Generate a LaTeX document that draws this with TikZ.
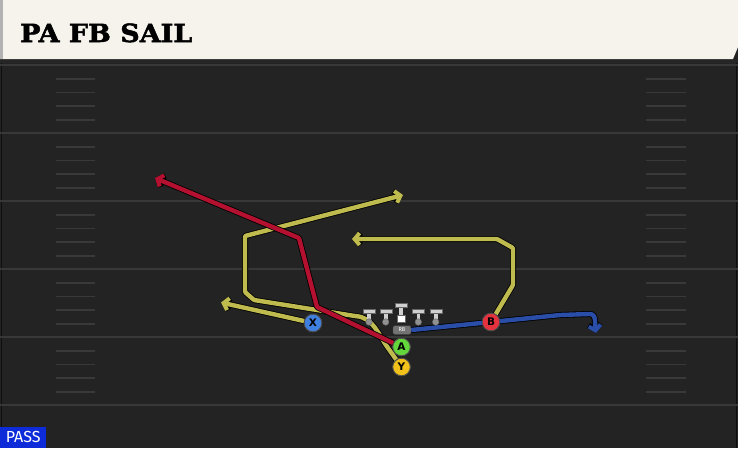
\documentclass[tikz,border=0pt]{standalone}
\usepackage{fontspec}
\setmainfont{DejaVu Sans}
\newfontfamily\titlefont{DejaVu Serif}[BoldFeatures={FakeBold=2,FakeStretch=1.08}]
\newfontfamily\tagfont{Fira Sans}
\usetikzlibrary{arrows.meta}
\definecolor{field}{HTML}{232323}
\definecolor{hdr}{HTML}{F5F3EC}
\definecolor{yardln}{HTML}{383838}
\definecolor{hashln}{HTML}{393939}
\definecolor{rtyellow}{HTML}{BFBB4F}
\definecolor{rtred}{HTML}{B3112F}
\definecolor{rtblue}{HTML}{2A4DA8}
\definecolor{plX}{HTML}{3F7FE0}
\definecolor{plA}{HTML}{62D63A}
\definecolor{plY}{HTML}{F2C21B}
\definecolor{plB}{HTML}{E5323F}
\definecolor{passblue}{HTML}{0D2BD9}
\definecolor{olman}{HTML}{CFCFCF}
\tikzset{
  route/.style={line width=4.4pt, line join=round, rounded corners=1pt,
    -{Straight Barb[length=5pt,width=12pt,line width=4pt]},
    preaction={draw=black, line width=6pt,
      -{Straight Barb[length=5pt,width=12pt,line width=5.6pt]}}},
  player/.style={circle, draw=black!70, line width=0.8pt, minimum size=17.5pt,
    inner sep=0pt, font=\bfseries\fontsize{10.5}{10.5}\selectfont, text=black},
  hash/.style={draw=hashln, line width=1.3pt},
  yard/.style={draw=yardln, line width=1.6pt}
}
\begin{document}
\begin{tikzpicture}[x=1pt,y=-1pt]
\useasboundingbox (0,0) rectangle (738,448);
\fill[field] (0,0) rectangle (738,448);
\draw[draw=black!60!field, line width=1.2pt] (1.5,60) -- (1.5,448);
\draw[draw=black!60!field, line width=1.2pt] (736.5,60) -- (736.5,448);
\foreach \yl in {65,133,201,269,337,405}{
  \draw[yard] (0,\yl) -- (738,\yl);
}
\foreach \yl in {65,133,201,269,337}{
  \foreach \off in {14,27.5,41,55}{
    \draw[hash] (56,\yl+\off) -- (95,\yl+\off);
    \draw[hash] (646,\yl+\off) -- (686,\yl+\off);
  }
}
\fill[black!85] (0,59) rectangle (738,63);
\fill[hdr] (0,0) -- (738,0) -- (738,47) -- (733,59) -- (0,59) -- cycle;
\fill[black!30] (0,0) rectangle (3,59);
\node[anchor=base west, inner sep=0pt] (title) at (20,42)
  {\titlefont\bfseries\fontsize{25}{30}\selectfont PA FB SAIL};

\node[player, fill=plX] (x) at (313,323) {X};
\node[player, fill=plA] (a) at (401.5,347) {A};
\node[player, fill=plY] (y) at (401.5,367) {Y};
\node[player, fill=plB] (b) at (491,322) {B};
\node[fill=black!55, draw=black!70, text=white, rounded corners=2pt, minimum width=18pt,
  minimum height=8.5pt, inner sep=0pt, font=\tagfont\fontsize{5.5}{5.5}\selectfont]
  (rb) at (402,330) {RB};

\coordinate (xend) at (221,302.5);
\coordinate (y1) at (388,348);
\coordinate (y2) at (355,316);
\coordinate (y3) at (254,300);
\coordinate (y4) at (245,292);
\coordinate (y5) at (245,236);
\coordinate (yend) at (403,195);
\coordinate (b1) at (513,285);
\coordinate (b2) at (513,248);
\coordinate (b3) at (497,239);
\coordinate (bend) at (352,239);
\coordinate (a1) at (317,307);
\coordinate (a2) at (299,238);
\coordinate (aend) at (155,178);
\coordinate (r1) at (560,315);
\coordinate (r2) at (589,314);
\coordinate (rend) at (596,333);

\draw[route, draw=rtyellow] (x) -- (xend);
\draw[route, draw=rtyellow] (y) -- (y1) to[out=125, in=-5] (y2) -- (y3) -- (y4) -- (y5) -- (yend);
\draw[route, draw=rtyellow] (b) -- (b1) -- (b2) -- (b3) -- (bend);
\draw[route, draw=rtred] (a) -- (a1) -- (a2) -- (aend);
\draw[route, draw=rtblue] (rb.east) -- (b.center) -- (r1) -- (r2) to[out=0, in=100] (rend);

\node[player, fill=plX] at (x) {X};
\node[player, fill=plA] at (a) {A};
\node[player, fill=plY] at (y) {Y};
\node[player, fill=plB] at (b) {B};

\foreach \lx in {369,385.7,418.3,435.7}{
  \fill[olman, draw=black!60, line width=0.4pt] (\lx-6,309.5) rectangle (\lx+6,313.5);
  \fill[olman] (\lx-1.8,313.5) rectangle (\lx+1.8,321);
  \fill[olman!70!black, draw=black!60, line width=0.4pt] (\lx,322) circle (3.3);
}
\fill[olman, draw=black!60, line width=0.4pt] (395,303.5) rectangle (407,307.5);
\fill[olman] (399.2,307.5) rectangle (402.8,315);
\fill[white, draw=black!60, line width=0.4pt] (397,315) rectangle (405,322.5);

\node[fill=passblue, text=white, anchor=south west, minimum width=46pt,
  minimum height=21pt, inner sep=0pt, font=\tagfont\fontsize{16}{16}\selectfont]
  (pass) at (0,448) {PASS};
\end{tikzpicture}
\end{document}
